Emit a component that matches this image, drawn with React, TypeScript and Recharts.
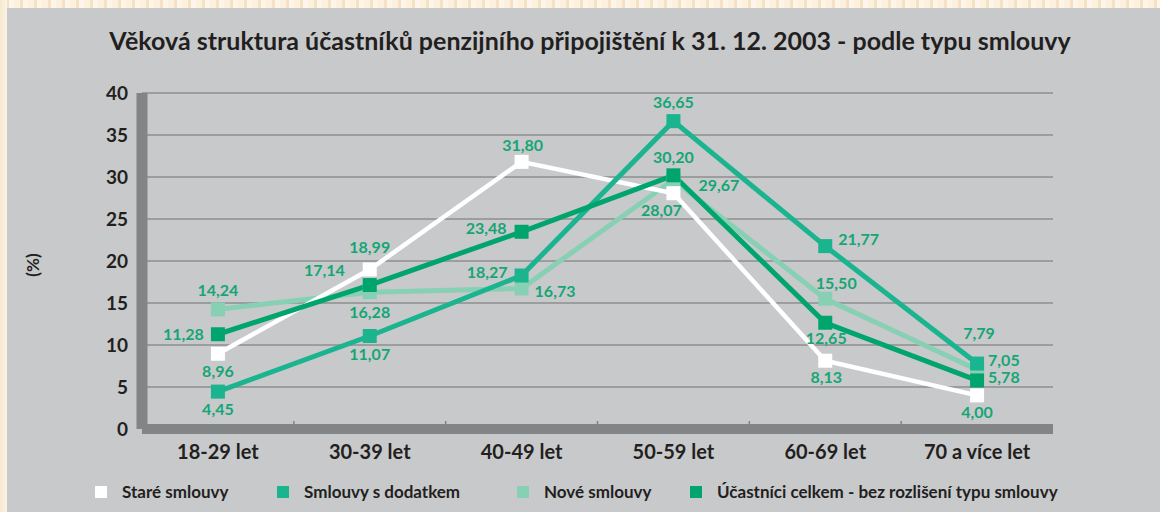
import { CartesianGrid, Line, LineChart, XAxis, YAxis } from 'recharts';

const categories = ['18-29 let', '30-39 let', '40-49 let', '50-59 let', '60-69 let', '70 a více let'];
const stare = [8.96, 18.99, 31.8, 28.07, 8.13, 4.0];
const dodatkem = [4.45, 11.07, 18.27, 36.65, 21.77, 7.79];
const nove = [14.24, 16.28, 16.73, 29.67, 15.5, 7.05];
const celkem = [11.28, 17.14, 23.48, 30.2, 12.65, 5.78];
const yTicks = [0, 5, 10, 15, 20, 25, 30, 35, 40];

// label placement per point: [anchor, dx, dy]
type Place = ['start' | 'middle' | 'end', number, number];
const stareLabels: Place[] = [['middle', 0, 18], ['middle', 0, -22], ['middle', 1, -17], ['middle', -12, 17], ['middle', 1, 17], ['middle', 0, 17]];
const dodatkemLabels: Place[] = [['middle', 0, 18], ['middle', 0, 18], ['end', -14, -3], ['middle', 0, -19], ['start', 13, -7], ['middle', 2, -30]];
const noveLabels: Place[] = [['middle', 0, -19], ['middle', 0, 20], ['start', 13, 3], ['start', 25, 5], ['middle', 11, -16], ['start', 11, -10]];
const celkemLabels: Place[] = [['end', -14, 0], ['end', -25, -15], ['end', -15, -4], ['middle', 0, -18], ['middle', 1, 15], ['start', 11, -3]];

const FONT = 'Lato, "Noto Sans", sans-serif';
const DARK = '#231f20';
const LABEL = '#14a674';
const BG = '#c8c9cb';
const AXIS = '#838486';

const series = [
    { key: 'stare', name: 'Staré smlouvy', color: '#ffffff', width: 4.5, values: stare, labels: stareLabels },
    { key: 'dodatkem', name: 'Smlouvy s dodatkem', color: '#1ab48e', width: 5, values: dodatkem, labels: dodatkemLabels },
    { key: 'nove', name: 'Nové smlouvy', color: '#88d0b4', width: 5, values: nove, labels: noveLabels },
    { key: 'celkem', name: 'Účastníci celkem - bez rozlišení typu smlouvy', color: '#00a56d', width: 5, values: celkem, labels: celkemLabels },
];
const drawOrder = ['nove', 'stare', 'dodatkem', 'celkem'];
const legendX = [95, 277, 517, 690];

const chartData = categories.map((c, i) => {
    const row: Record<string, string | number> = { category: c };
    series.forEach((s) => (row[s.key] = s.values[i]));
    return row;
});

const fmt = (v: number) => v.toFixed(2).replace('.', ',');

const SquareDot = (color: string) => (p: any) => {
    if (p.cx == null || p.cy == null) return <g key={p.key} />;
    return <rect key={p.key} x={p.cx - 7} y={p.cy - 7} width={14} height={14} fill={color} />;
};

const PointLabel = (places: Place[]) => (p: any) => {
    const pl = places[p.index] ?? ['middle', 0, -18];
    return (
        <text
            key={`lbl-${p.index}`}
            x={p.x + pl[1]}
            y={p.y + pl[2]}
            dy="0.36em"
            textAnchor={pl[0]}
            fill={LABEL}
            fontFamily={FONT}
            fontWeight={700}
            fontSize={16}
        >
            {fmt(Number(p.value))}
        </text>
    );
};

const CategoryTick = (p: any) => {
    const axisY = p.y - 16;
    const off = p.payload?.offset ?? 0;
    return (
        <g>
            {p.index > 0 && (
                <line x1={p.x - off} x2={p.x - off} y1={axisY - 8} y2={axisY - 5} stroke={AXIS} strokeWidth={1.5} />
            )}
            <text x={p.x} y={p.y} dy="0.71em" textAnchor="middle" fill={DARK} fontFamily={FONT} fontWeight={700} fontSize={20}>
                {p.payload.value}
            </text>
        </g>
    );
};

const stripe = 'repeating-linear-gradient(90deg, #fbf1de 0px, #fbf1de 6px, #f3e2c4 6px, #f3e2c4 9px, #fdf6e8 9px, #fdf6e8 14px)';

export default function App() {
    return (
        <div style={{ position: 'absolute', left: 0, top: 0, width: 1160, height: 512, background: BG, overflow: 'hidden', fontFamily: FONT }}>
            <div style={{ position: 'absolute', left: 0, top: 0, width: 1160, height: 8, background: stripe }} />
            <div style={{ position: 'absolute', left: 0, top: 0, width: 7, height: 512, background: 'linear-gradient(90deg, #f6e8cf, #fbf3e3)' }} />
            <div
                style={{
                    position: 'absolute', left: 0, width: 1180, top: 25, textAlign: 'center',
                    fontSize: 25, fontWeight: 700, color: DARK, whiteSpace: 'nowrap',
                }}
            >
                Věková struktura účastníků penzijního připojištění k 31. 12. 2003 - podle typu smlouvy
            </div>
            <div
                style={{
                    position: 'absolute', left: 32, top: 265, transform: 'translate(-50%, -50%) rotate(-90deg)',
                    fontSize: 17, fontWeight: 700, color: DARK, whiteSpace: 'nowrap',
                }}
            >
                (%)
            </div>
            <div style={{ position: 'absolute', left: 0, top: 0 }}>
                <LineChart width={1160} height={512} data={chartData} margin={{ top: 93, right: 107, bottom: 43, left: 0 }}>
                    <CartesianGrid horizontal vertical={false} stroke="#8d8e90" strokeWidth={1.5} />
                    <XAxis
                        dataKey="category"
                        scale="band"
                        height={40}
                        axisLine={{ stroke: AXIS, strokeWidth: 10 }}
                        tickLine={false}
                        tickSize={0}
                        tickMargin={16}
                        tick={CategoryTick}
                        interval={0}
                    />
                    <YAxis
                        width={142}
                        domain={[0, 40]}
                        ticks={yTicks}
                        axisLine={{ stroke: AXIS, strokeWidth: 11 }}
                        tickLine={false}
                        tickSize={0}
                        tickMargin={14}
                        tick={{ fill: DARK, fontFamily: FONT, fontWeight: 700, fontSize: 19 }}
                    />
                    {drawOrder.map((k) => {
                        const s = series.find((x) => x.key === k)!;
                        return (
                            <Line
                                key={s.key}
                                type="linear"
                                dataKey={s.key}
                                name={s.name}
                                stroke={s.color}
                                strokeWidth={s.width}
                                dot={SquareDot(s.color)}
                                activeDot={false}
                                label={PointLabel(s.labels)}
                                isAnimationActive={false}
                            />
                        );
                    })}
                </LineChart>
            </div>
            {series.map((s, i) => (
                <div key={s.key} style={{ position: 'absolute', left: legendX[i], top: 481, display: 'flex', alignItems: 'center', whiteSpace: 'nowrap' }}>
                    <span style={{ display: 'inline-block', width: 12, height: 12, background: s.color, marginRight: 15 }} />
                    <span style={{ fontSize: 17, fontWeight: 700, color: DARK }}>{s.name}</span>
                </div>
            ))}
        </div>
    );
}
